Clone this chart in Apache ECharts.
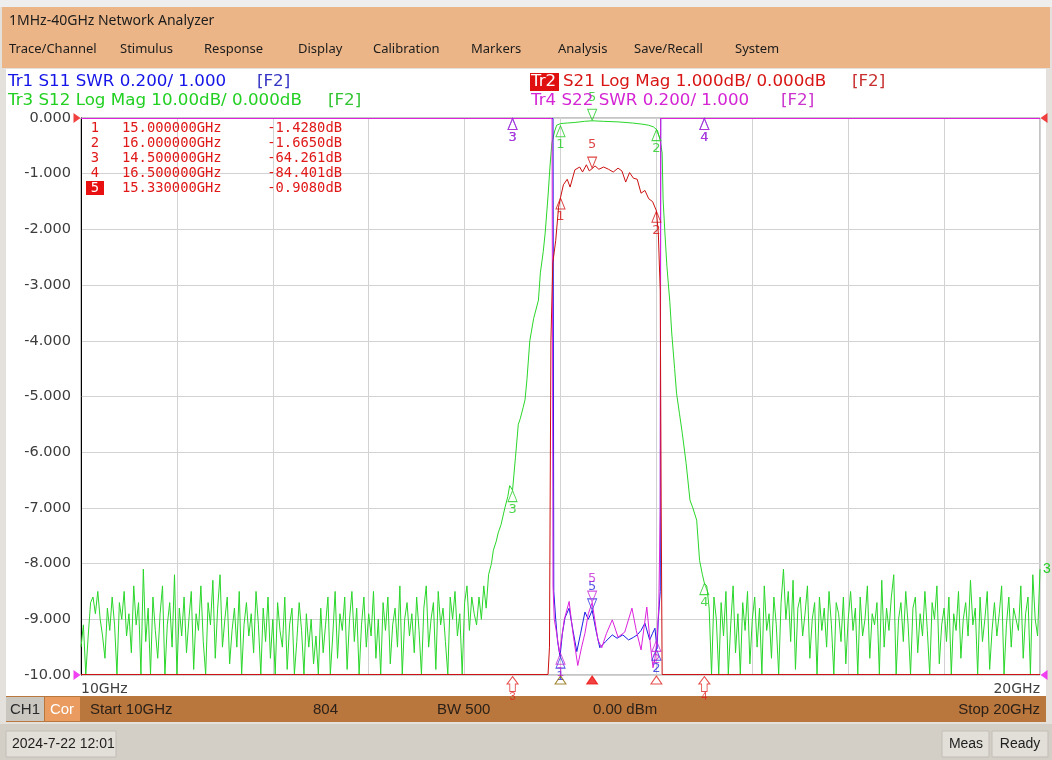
<!DOCTYPE html>
<html><head><meta charset="utf-8">
<script src="https://cdn.jsdelivr.net/npm/echarts@6/dist/echarts.min.js"></script>
<style>html,body{margin:0;padding:0;background:#e6e3de;}#c{width:1052px;height:760px;}</style>
</head><body><div id="c"></div>
<script>
// ---------------- DATA ----------------
// sweep: 10 GHz .. 20 GHz
const markerLabels = ['1', '2', '3', '4', '5'];
const markerFreq = [15.0, 16.0, 14.5, 16.5, 15.33];
const activeMarker = 4;
// Tr2 S21 marker readouts (dB)
const s21Mk = [-1.428, -1.665, -64.261, -84.401, -0.908];
// Tr3 S12 marker values (dB), Tr1 S11 and Tr4 S22 marker values (SWR)
const s12Mk = [-1.3, -2.0, -66.8, -83.5, -0.5];
const s11Mk = [1.066, 1.094, 5, 5, 1.232];
const s22Mk = [1.08, 1.126, 5, 5, 1.26];

// Tr2 S21 Log Mag (dB)
const s21Freq = [10, 14.87, 14.875, 14.885, 14.9, 14.92, 14.95, 14.98, 15.0, 15.03,
  15.07, 15.1, 15.15, 15.2, 15.23, 15.27, 15.3, 15.33, 15.36, 15.4,
  15.45, 15.5, 15.55, 15.6, 15.64, 15.68, 15.72, 15.76, 15.8, 15.84,
  15.88, 15.92, 15.96, 16.0, 16.02, 16.04, 16.05, 16.06, 16.07, 20];
const s21Db = [-70, -70, -40, -9.5, -4, -2.6, -2.2, -1.6, -1.428, -1.2,
  -1.1, -1.24, -0.93, -0.88, -0.97, -0.84, -0.95, -0.908, -0.86, -0.92,
  -0.88, -0.92, -0.97, -0.9, -0.95, -1.15, -0.98, -1.08, -1.1, -1.35,
  -1.3, -1.45, -1.5, -1.665, -2.07, -3.1, -7, -35, -70, -70];

// Tr1 S11 SWR
const s11Freq = [10, 14.922, 14.93, 14.95, 14.97, 14.995, 15.02, 15.047, 15.09, 15.13,
  15.17, 15.21, 15.255, 15.29, 15.33, 15.37, 15.41, 15.47, 15.54, 15.59,
  15.65, 15.71, 15.76, 15.80, 15.84, 15.88, 15.93, 15.96, 15.985, 16.006,
  16.02, 16.04, 16.045, 20];
const s11Swr = [5, 5, 1.3, 1.2, 1.12, 1.066, 1.15, 1.206, 1.24, 1.16,
  1.084, 1.15, 1.226, 1.2, 1.232, 1.16, 1.098, 1.12, 1.144, 1.132,
  1.144, 1.126, 1.135, 1.144, 1.16, 1.186, 1.126, 1.15, 1.168, 1.094,
  1.2, 1.3, 5, 5];

// Tr4 S22 SWR
const s22Freq = [10, 14.912, 14.922, 14.935, 14.96, 14.99, 15.04, 15.09, 15.13, 15.18,
  15.22, 15.255, 15.29, 15.33, 15.39, 15.43, 15.48, 15.54, 15.6, 15.67,
  15.745, 15.79, 15.84, 15.9, 15.94, 15.965, 15.985, 16.006, 16.025, 16.04,
  16.045, 20];
const s22Swr = [5, 5, 1.32, 1.2, 1.15, 1.08, 1.2, 1.264, 1.15, 1.034,
  1.1, 1.15, 1.22, 1.26, 1.126, 1.098, 1.15, 1.198, 1.136, 1.154,
  1.24, 1.16, 1.09, 1.244, 1.1, 1.026, 1.06, 1.126, 1.25, 1.6,
  5, 5];

// Tr3 S12 Log Mag (dB): stop-band floor (0.025 GHz steps)
const s12NoiseStep = 0.025;
const s12LeftStart = 10.0;
const s12LeftNoise = [
  -95,-91,-100,-93,-87,-86,-89,-85,-90,-93,
  -97,-88,-92,-86,-91,-100,-87,-90,-85,-93,
  -89,-96,-84,-91,-87,-100,-81,-94,-88,-100,
  -86,-92,-97,-89,-84,-100,-91,-87,-95,-82,
  -100,-88,-93,-86,-96,-90,-85,-99,-89,-92,
  -84,-94,-100,-87,-91,-83,-97,-88,-82,-95,
  -90,-86,-98,-92,-88,-95,-85,-100,-91,-87,
  -93,-89,-96,-85,-91,-100,-88,-94,-86,-97,
  -90,-100,-87,-92,-95,-86,-99,-91,-88,-100,
  -94,-87,-92,-100,-89,-95,-90,-98,-93,-100,
  -88,-96,-91,-86,-100,-93,-85,-97,-89,-92,
  -86,-99,-90,-85,-94,-88,-100,-91,-86,-95,
  -89,-93,-85,-97,-90,-100,-87,-92,-86,-98,
  -91,-88,-95,-84,-100,-90,-87,-93,-89,-96,
  -86,-92,-100,-88,-84,-95,-90,-87,-99,-85,
  -91,-88,-94,-100,-86,-90,-85,-93,-89,-100,
  -87,-84,-92,-86,-89];
const s12SkirtFreq = [14.125,14.15,14.175,14.2,14.225,14.25,14.28,14.30,14.33,14.35,
  14.38,14.42,14.45,14.47,14.5,14.53,14.56,14.58,14.61,14.63,
  14.65,14.68,14.72,14.77,14.79,14.82,14.84,14.87,14.89,14.91,
  14.94,14.96,15.0,15.07,15.15,15.25,15.33,15.45,15.6,15.75,
  15.85,15.92,15.97,16.01,16.04,16.06,16.07,16.09,16.11,16.14,
  16.16,16.19,16.21,16.24,16.27,16.31,16.35,16.38,16.42,16.45,
  16.48,16.5];
const s12SkirtDb = [-91,-86,-90,-84,-88,-82,-80,-77.6,-76,-74.5,
  -73,-70,-68,-66,-66.8,-61,-55,-54,-52,-50.6,
  -47,-40,-36,-32.7,-27.8,-24,-20.7,-14,-8.8,-4.5,
  -2.3,-1.3,-1.0,-0.9,-0.8,-0.6,-0.5,-0.6,-0.7,-0.9,
  -1.1,-1.3,-1.6,-2.2,-4,-6.3,-14.7,-21,-26.7,-33,
  -38.6,-45,-49.4,-53,-56.6,-62,-68.6,-70,-72.2,-79.4,
  -82,-83.5];
const s12RightStart = 16.525;
const s12RightNoise = [
  -84,-88,-100,-86,-90,-100,-87,-93,-85,-100,
  -91,-84,-96,-89,-100,-87,-92,-85,-98,-90,
  -86,-95,-88,-100,-84,-92,-89,-97,-86,-91,
  -100,-87,-81,-90,-85,-94,-83,-99,-88,-86,
  -93,-89,-84,-97,-90,-87,-100,-86,-92,-88,
  -95,-85,-91,-100,-87,-89,-94,-86,-98,-90,
  -85,-92,-88,-100,-86,-93,-90,-84,-97,-89,
  -91,-87,-100,-83,-95,-88,-92,-86,-82,-100,
  -90,-87,-94,-85,-91,-100,-88,-86,-96,-89,
  -93,-85,-92,-100,-87,-90,-84,-98,-91,-88,
  -94,-86,-100,-89,-92,-85,-97,-90,-87,-93,
  -83,-91,-88,-100,-86,-94,-90,-85,-99,-92,
  -87,-93,-89,-84,-100,-91,-86,-95,-88,-90,
  -92,-84,-97,-89,-86,-100,-82,-90,-93,-81];

// y tick labels (Tr2 scale, 1 dB/div, ref 0 dB)
const yTickMin = -10, yTickMax = 0, yTickStep = 1;

// ---------------- BUILD ----------------
const clamp = (v, lo, hi) => Math.max(lo, Math.min(hi, v));
const col = { s11: '#1c1ce6', s21: '#cc1010', s12: '#2ad62a', s22: '#dd22dd' };
// traces that leave the screen are drawn along the edge (half a pixel inside for a crisp line)
const SWR_TOP = 2.9982, S21_BOT = -9.991;

const s12Points = [].concat(
  s12LeftNoise.map((v, i) => [+(s12LeftStart + i * s12NoiseStep).toFixed(3), v]),
  s12SkirtFreq.map((f, i) => [f, s12SkirtDb[i]]),
  s12RightNoise.map((v, i) => [+(s12RightStart + i * s12NoiseStep).toFixed(3), v])
).map(p => [p[0], clamp(p[1], -99.91, 0)]);
const s21Points = s21Freq.map((f, i) => [f, clamp(s21Db[i], S21_BOT, 0)]);
const s11Points = s11Freq.map((f, i) => [f, clamp(s11Swr[i], 1, SWR_TOP)]);
const s22Points = s22Freq.map((f, i) => [f, clamp(s22Swr[i], 1, SWR_TOP)]);

const UP = 'path://M5,0 L10,10 L0,10 Z';
const DOWN = 'path://M0,0 L10,0 L5,10 Z';
const ARROW = 'path://M5,0 L10,7 L7.5,7 L7.5,14 L2.5,14 L2.5,7 L0,7 Z';

function markerSeries(vals, yIdx, lo, hi, color) {
  const data = [];
  markerFreq.forEach((f, i) => {
    const v0 = vals[i];
    if (yIdx === 0 && v0 < lo) return; // off-scale: shown on stimulus ruler
    const v = clamp(v0, lo, hi);
    const active = i === activeMarker;
    data.push({
      value: [f, v],
      symbol: active ? DOWN : UP,
      symbolOffset: [0, active ? -6 : 6],
      label: { show: true, formatter: markerLabels[i], position: active ? 'top' : 'bottom',
        distance: active ? 5 : 1, color: color, fontSize: 13, fontFamily: 'DejaVu Sans' }
    });
  });
  return { type: 'scatter', yAxisIndex: yIdx, data: data, symbolSize: [9, 11], clip: false, z: 6,
    silent: true, itemStyle: { color: 'rgba(255,255,255,0)', borderColor: color, borderWidth: 1 } };
}

const rulerData = markerFreq.map((f, i) => {
  const off = s21Mk[i] < yTickMin;
  const active = i === activeMarker;
  const c = i === 0 ? '#8a6a00' : '#e02020';
  return {
    value: [f, yTickMin],
    symbol: off ? ARROW : UP,
    symbolSize: off ? [11, 15] : [11, 8],
    symbolOffset: [0, off ? 9 : 5],
    itemStyle: { color: active ? '#ee1111' : 'rgba(255,255,255,0)', borderColor: active ? '#ee1111' : c, borderWidth: 1 },
    label: { show: off, formatter: markerLabels[i], position: 'bottom', distance: -1, color: '#e02020', fontSize: 11 }
  };
});

function lineSeries(points, yIdx, color, extra) {
  return Object.assign({ type: 'line', yAxisIndex: yIdx, data: points, symbol: 'none', showSymbol: false,
    lineStyle: { width: 1, color: color }, silent: true, z: 3 }, extra || {});
}

const T = (text, x, y, fill, font, align, extra) => Object.assign({
  type: 'text', z: 20, silent: true,
  style: { text: text, x: x, y: y, fill: fill, font: font, textAlign: align || 'left', align: align || 'left',
    textVerticalAlign: 'middle', verticalAlign: 'middle' }
}, extra || {});
const R = (x, y, w, h, fill, stroke, z) => ({ type: 'rect', z: z === undefined ? -10 : z, silent: true,
  shape: { x: x, y: y, width: w, height: h }, style: { fill: fill, stroke: stroke || null, lineWidth: 1 } });

const uiFont = '14px "Noto Sans"';
const menuFont = '13px "Noto Sans"';
const hdrFont = '16.7px "DejaVu Sans"';
const tblFont = '13.8px "DejaVu Sans Mono"';
const barFont = '15px "Liberation Sans"';

const menus = [['Trace/Channel', 9], ['Stimulus', 120], ['Response', 204], ['Display', 298], ['Calibration', 373],
  ['Markers', 471], ['Analysis', 558], ['Save/Recall', 634], ['System', 735]];

const g = [
  R(0, 0, 1052, 760, '#e4e1dc'),
  R(0, 0, 1052, 7, '#eeeeee'),
  R(2, 7, 1048, 61, '#ebb587'),
  R(6, 69, 1040, 627, '#ffffff'),
  R(6, 696, 1040, 26, '#b9763d'),
  R(6, 697, 38, 24, '#cac7c1', null, -9),
  R(45, 697, 35, 24, '#e99b60', null, -9),
  R(0, 724, 1052, 36, '#d3cfc7'),
  R(6, 731, 110, 26, '#e2ded8', '#c2beb7', -9),
  R(942, 731, 47, 26, '#e2ded8', '#c2beb7', -9),
  R(992, 731, 56, 26, '#e2ded8', '#c2beb7', -9),
  T('1MHz-40GHz Network Analyzer', 9, 21, '#1c1c1c', uiFont),
  T('Tr1 S11 SWR 0.200/ 1.000', 8, 82, '#1414e8', hdrFont),
  T('[F2]', 257, 82, '#3434c4', hdrFont),
  T('Tr3 S12 Log Mag 10.00dB/ 0.000dB', 8, 101, '#22d022', hdrFont),
  T('[F2]', 328, 101, '#33c433', hdrFont),
  R(530, 73, 29, 18, '#e01010', null, 19),
  T('Tr2', 531, 82, '#ffffff', hdrFont),
  T('S21 Log Mag 1.000dB/ 0.000dB', 563, 82, '#d81414', hdrFont),
  T('[F2]', 852, 82, '#c83030', hdrFont),
  T('Tr4 S22 SWR 0.200/ 1.000', 531, 101, '#d424d4', hdrFont),
  T('[F2]', 781, 101, '#cc33cc', hdrFont),
  T('CH1', 25, 710, '#2a2a2a', barFont, 'center'),
  T('Cor', 62, 710, '#ffffff', barFont, 'center'),
  T('Start 10GHz', 90, 710, '#2b2118', barFont),
  T('804', 313, 710, '#2b2118', barFont),
  T('BW 500', 437, 710, '#2b2118', barFont),
  T('0.00 dBm', 593, 710, '#2b2118', barFont),
  T('Stop 20GHz', 1040, 710, '#2b2118', barFont, 'right'),
  T('2024-7-22 12:01', 12, 744, '#1e1e1e', '14px "Liberation Sans"'),
  T('Meas', 966, 744, '#1e1e1e', '14px "Liberation Sans"', 'center'),
  T('Ready', 1020, 744, '#1e1e1e', '14px "Liberation Sans"', 'center')
];
menus.forEach(m => g.push(T(m[0], m[1], 49, '#1c1c1c', menuFont)));

// marker readout table (active trace Tr2)
markerFreq.forEach((f, i) => {
  const y = 128 + i * 15;
  const active = i === activeMarker;
  if (active) g.push(R(86, y - 7, 18, 14, '#e81010', null, 19));
  g.push(T(markerLabels[i], 95, y, active ? '#ffffff' : '#e01818', tblFont, 'center'));
  g.push(T(f.toFixed(6) + 'GHz', 122, y, '#e01818', tblFont));
  const v = s21Mk[i];
  g.push(T(v.toFixed(Math.abs(v) < 10 ? 4 : 3) + 'dB', 342, y, '#e01818', tblFont, 'right'));
});

const option = {
  animation: false,
  backgroundColor: '#e4e1dc',
  graphic: { elements: g },
  grid: { left: 81, right: 12, top: 118, bottom: 85, show: true, borderColor: '#8a8a8a', borderWidth: 1, backgroundColor: 'rgba(0,0,0,0)' },
  xAxis: {
    type: 'value', min: 10, max: 20, interval: 1,
    axisLine: { show: false }, axisTick: { show: false },
    splitLine: { show: true, lineStyle: { color: '#d2d2d2', width: 1 } },
    axisLabel: { formatter: v => (v === 10 ? '10GHz' : v === 20 ? '20GHz' : ''), alignMinLabel: 'left', alignMaxLabel: 'right',
      color: '#404040', fontSize: 14, fontFamily: 'DejaVu Sans', margin: 7, showMinLabel: true, showMaxLabel: true }
  },
  yAxis: [
    { type: 'value', min: yTickMin, max: yTickMax, interval: yTickStep,
      axisLine: { show: true, onZero: false, lineStyle: { color: '#000000', width: 1 } }, axisTick: { show: false },
      splitLine: { show: true, lineStyle: { color: '#d2d2d2', width: 1 } },
      axisLabel: { formatter: v => (v === yTickMin ? v.toFixed(2) : v.toFixed(3)), color: '#3c3c3c', fontSize: 14.5,
        fontFamily: 'DejaVu Sans', margin: 10, showMinLabel: true, showMaxLabel: true } },
    { type: 'value', min: -100, max: 0, show: false },
    { type: 'value', min: 1, max: 3, show: false }
  ],
  series: [
    lineSeries(s12Points, 1, col.s12, { endLabel: { show: true, formatter: '3', color: '#22cc22', fontSize: 14, distance: 3 } }),
    lineSeries(s11Points, 2, col.s11),
    lineSeries(s22Points, 2, col.s22),
    lineSeries(s21Points, 0, col.s21),
    markerSeries(s12Mk, 1, -100, 0, '#22cc22'),
    markerSeries(s11Mk, 2, 1, 3, '#2a2ae0'),
    markerSeries(s22Mk, 2, 1, 3, '#c828d8'),
    markerSeries(s21Mk, 0, -10, 0, '#d41414'),
    { type: 'scatter', yAxisIndex: 0, clip: false, silent: true, z: 7, data: rulerData },
    { type: 'scatter', yAxisIndex: 0, clip: false, silent: true, z: 7, symbolSize: [7, 10], data: [
      { value: [10, yTickMax], symbol: 'path://M0,0 L10,5 L0,10 Z', symbolOffset: [-4, 0], itemStyle: { color: '#ee1010' } },
      { value: [10, yTickMin], symbol: 'path://M0,0 L10,5 L0,10 Z', symbolOffset: [-4, 0], itemStyle: { color: '#ee10ee' } },
      { value: [20, yTickMax], symbol: 'path://M10,0 L0,5 L10,10 Z', symbolOffset: [4, 0], itemStyle: { color: '#ee1010' } },
      { value: [20, yTickMin], symbol: 'path://M10,0 L0,5 L10,10 Z', symbolOffset: [4, 0], itemStyle: { color: '#ee10ee' } }
    ] }
  ]
};
const chart = echarts.init(document.getElementById('c'), null, { renderer: 'canvas', width: 1052, height: 760 });
chart.setOption(option);
</script></body></html>
